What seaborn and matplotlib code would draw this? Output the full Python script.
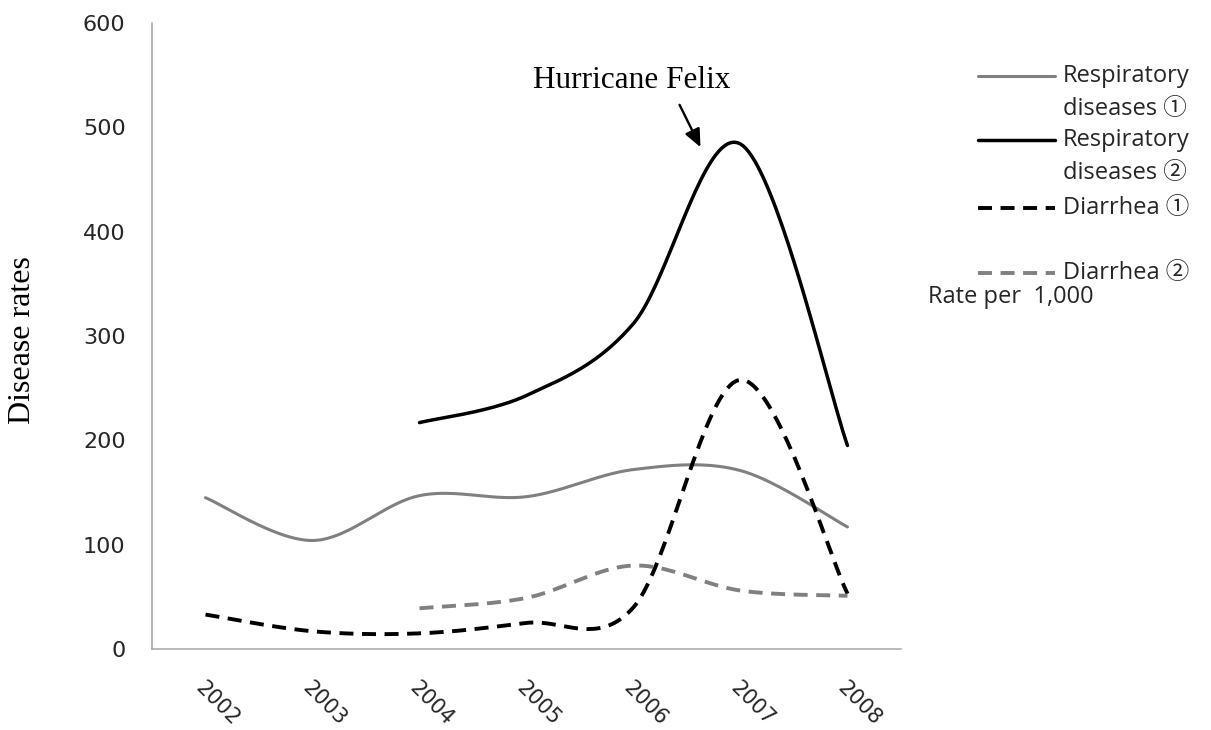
import numpy as np
import matplotlib.pyplot as plt
import seaborn as sns
from matplotlib.lines import Line2D

# values (rate per 1,000), None = no data that year
years = ["2002", "2003", "2004", "2005", "2006", "2007", "2008"]
resp_1 = [145, 104, 147, 146, 172, 171, 117]
resp_2 = [None, None, 217, 243, 312, 484, 195]
diarrhea_1 = [33, 17, 15, 25, 40, 258, 53]
diarrhea_2 = [None, None, 39, 49, 80, 56, 51]
series_names = ["Respiratory\ndiseases \u2460", "Respiratory\ndiseases \u2461",
                "Diarrhea \u2460", "Diarrhea \u2461"]

GREY = "#808080"
SANS = ["Open Sans", "Noto Sans CJK JP", "DejaVu Sans"]


def smooth(values, n=40):
    """Excel-like smoothed line (Catmull-Rom through the data points)."""
    idx = [i for i, v in enumerate(values) if v is not None]
    x = np.array(idx, dtype=float)
    y = np.array([values[i] for i in idx], dtype=float)
    xp = np.r_[x[0], x, x[-1]]
    yp = np.r_[y[0], y, y[-1]]
    t = np.linspace(0, 1, n, endpoint=False)
    xs, ys = [], []
    for i in range(len(x) - 1):
        for arr, out in ((xp, xs), (yp, ys)):
            p0, p1, p2, p3 = arr[i:i + 4]
            out.extend(0.5 * (2 * p1 + (-p0 + p2) * t
                              + (2 * p0 - 5 * p1 + 4 * p2 - p3) * t ** 2
                              + (-p0 + 3 * p1 - 3 * p2 + p3) * t ** 3))
    xs.append(x[-1])
    ys.append(y[-1])
    return np.array(xs), np.array(ys)


sns.set_theme(style="white")
plt.rcParams["font.family"] = SANS

fig = plt.figure(figsize=(12.11, 7.30), dpi=100)
ax = fig.add_axes([152 / 1211, 1 - 649 / 730, 749 / 1211, 626 / 730])

styles = [
    (resp_1, GREY, 2.2, None),
    (resp_2, "black", 2.5, None),
    (diarrhea_1, "black", 2.8, [3.6, 2.2]),
    (diarrhea_2, GREY, 2.8, [3.6, 2.2]),
]
for vals, col, lw, dash in styles:
    sx, sy = smooth(vals)
    sns.lineplot(x=sx, y=sy, ax=ax, color=col, linewidth=lw,
                 estimator=None, sort=False)
    if dash:
        ax.lines[-1].set_dashes(dash)

ax.set_xlim(-0.5, len(years) - 0.5)
ax.set_ylim(0, 600)
ax.set_yticks(range(0, 601, 100))
ax.set_xticks(range(len(years)))
ax.set_xticklabels(years, rotation=-45, rotation_mode="anchor", ha="left",
                   va="top", fontsize=15, family="DejaVu Sans",
                   color="#262626")
ax.tick_params(axis="y", length=0, pad=19, labelsize=16, labelcolor="#262626")
ax.tick_params(axis="x", length=0, pad=21)
for lab in ax.get_yticklabels():
    lab.set_family("DejaVu Sans")
ax.set_xlabel("")
ax.set_ylabel("")
sns.despine(ax=ax)
for side in ("left", "bottom"):
    ax.spines[side].set_color("#A6A6A6")
    ax.spines[side].set_linewidth(1.1)

fig.text(23 / 1211, 1 - 340 / 730, "Disease rates", rotation=90,
         ha="center", va="center", fontsize=23, family="Liberation Serif",
         color="black")

# annotation for the hurricane
ax.annotate("Hurricane Felix", xy=(4.626, 481), xytext=(3.981, 537.4),
            ha="center", va="baseline", fontsize=22.5,
            family="Liberation Serif", color="black",
            arrowprops=dict(arrowstyle="-|>,head_length=0.9,head_width=0.4",
                            mutation_scale=12, color="black", lw=1.7,
                            relpos=(0.72, 0), shrinkA=5, shrinkB=0))

# legend drawn at the right, one handle per series
handle_y = [76, 140, 208, 273]
for (vals, col, lw, dash), name, hy in zip(styles, series_names, handle_y):
    ln = Line2D([978 / 1211, 1055 / 1211], [1 - hy / 730] * 2,
                transform=fig.transFigure, color=col, linewidth=lw)
    if dash:
        ln.set_dashes(dash)
    fig.add_artist(ln)
    for k, part in enumerate(name.split("\n")):
        fig.text(1063 / 1211, 1 - (hy + k * 33) / 730, part, ha="left",
                 va="center", fontsize=17, family=SANS, color="#262626")

fig.text(928 / 1211, 1 - 297 / 730, "Rate per  1,000", ha="left",
         va="center", fontsize=17, family=SANS, color="#262626")

fig.savefig("out.png", dpi=100)
